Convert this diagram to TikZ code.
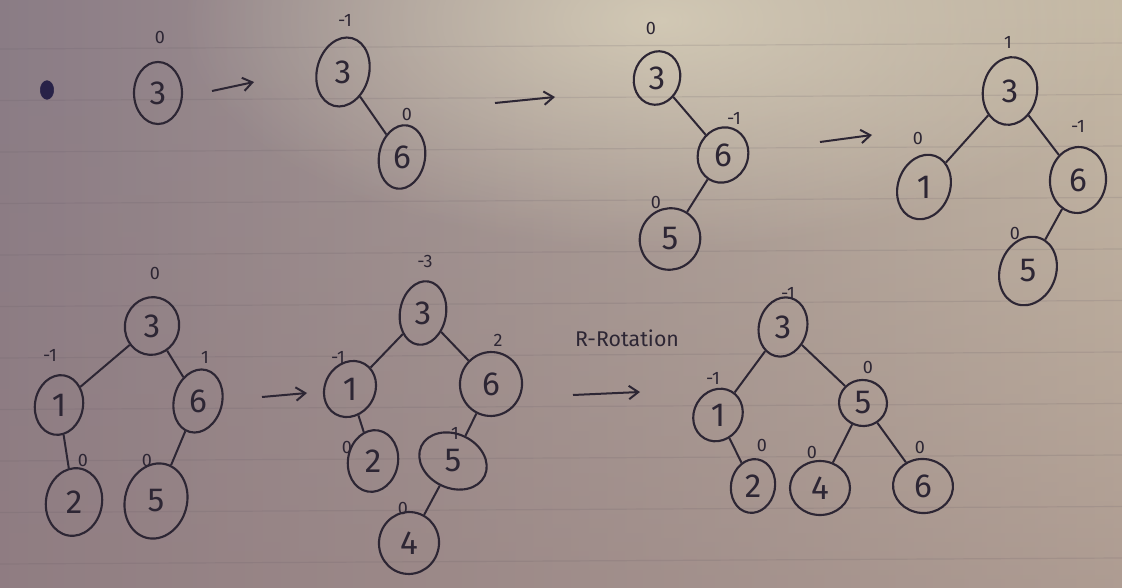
\documentclass[tikz,border=0pt]{standalone}
\usepackage{fontspec}
\setmainfont{Fira Sans}
\usetikzlibrary{shapes.geometric,arrows.meta,fadings}
\definecolor{ink}{RGB}{45,38,52}
\definecolor{dotink}{RGB}{40,34,72}
\definecolor{bgL}{RGB}{138,124,134}
\definecolor{bgR}{RGB}{198,186,166}
\definecolor{bgB}{RGB}{150,126,126}
\definecolor{bgH}{RGB}{222,214,190}
\definecolor{rule}{RGB}{95,85,95}
\tikzfading[name=softglow, inner color=transparent!0, outer color=transparent!100]
\newcommand{\avlnode}[7]{%
  \pgfmathsetmacro{\avlang}{-(#6)}%
  \node[tnode, minimum width=#4*1.5pt, minimum height=#5*1.5pt, rotate=#6] (#1) at (#2,#3) {\rotatebox{\avlang}{#7}};}
\begin{document}
\begin{tikzpicture}[x=0.75pt,y=-0.75pt,
  tnode/.style={ellipse, draw=ink, line width=1.6pt, inner sep=0pt, text=ink,
    font=\fontsize{25}{25}\selectfont},
  bf/.style={text=ink, inner sep=0pt, font=\fontsize{13.5}{13.5}\selectfont},
  edge/.style={draw=ink, line width=1.5pt},
  harrow/.style={draw=ink, line width=1.5pt, -{Straight Barb[length=7pt,width=10pt]}},
  rot/.style={text=ink, font=\fontsize{16}{16}\selectfont}]
% paper
\useasboundingbox (0,0) rectangle (1122,588);
\shade[left color=bgL, right color=bgR] (0,0) rectangle (1122,588);
\fill[bgB, path fading=north, fill opacity=0.5] (0,0) rectangle (1122,588);
\fill[bgH, path fading=softglow, fill opacity=0.75] (660,20) ellipse (480 and 230);
\foreach \k in {0,...,10}{
  \draw[rule, opacity=0.15, line width=0.9pt] (0,49+51.5*\k) -- (1122,43+51.5*\k);
}
% tree 1
\node[ellipse, fill=dotink, draw=dotink, minimum width=10pt, minimum height=14pt, inner sep=0pt] (dot) at (47,90) {};
\avlnode{t1a}{158}{93}{24}{31}{0}{3}
\node[bf] (t1al) at (160,37) {0};
\coordinate (a1s) at (212,91); \coordinate (a1e) at (254,82);
\draw[harrow] (a1s) -- (a1e);
% tree 2
\avlnode{t2a}{343}{72}{26}{35}{-15}{3}
\avlnode{t2b}{402}{157}{23}{32}{-10}{6}
\node[bf] (t2al) at (345,20) {-1};
\node[bf] (t2bl) at (407,114) {0};
\draw[edge] (t2a) -- (t2b);
\coordinate (a2s) at (495,103); \coordinate (a2e) at (555,97);
\draw[harrow] (a2s) -- (a2e);
% tree 3
\avlnode{t3a}{657}{78}{23}{27}{-15}{3}
\avlnode{t3b}{723}{155}{25}{28}{-20}{6}
\avlnode{t3c}{670}{239}{30}{31}{-30}{5}
\node[bf] (t3al) at (651,28) {0};
\node[bf] (t3bl) at (734,118) {-1};
\node[bf] (t3cl) at (656,202) {0};
\draw[edge] (t3a) -- (t3b);
\draw[edge] (t3b) -- (t3c);
\coordinate (a3s) at (820,142); \coordinate (a3e) at (872,135);
\draw[harrow] (a3s) -- (a3e);
% tree 4
\avlnode{t4a}{1010}{91}{27}{34}{-10}{3}
\avlnode{t4b}{924}{187}{26}{33}{-20}{1}
\avlnode{t4c}{1078}{180}{28}{33}{-5}{6}
\avlnode{t4d}{1028}{271}{28}{35}{-20}{5}
\node[bf] (t4al) at (1008,42) {1};
\node[bf] (t4bl) at (918,138) {0};
\node[bf] (t4cl) at (1078,126) {-1};
\node[bf] (t4dl) at (1015,233) {0};
\draw[edge] (t4a) -- (t4b);
\draw[edge] (t4a) -- (t4c);
\draw[edge] (t4c) -- (t4d);
% tree 5
\avlnode{t5a}{152}{326}{27}{29}{-15}{3}
\avlnode{t5b}{59}{405}{24}{30}{-10}{1}
\avlnode{t5c}{198}{401}{24}{32}{-15}{6}
\avlnode{t5d}{74}{502}{28}{34}{-10}{2}
\avlnode{t5e}{156}{501}{31}{38}{-15}{5}
\node[bf] (t5al) at (155,273) {0};
\node[bf] (t5bl) at (50,355) {-1};
\node[bf] (t5cl) at (205,357) {1};
\node[bf] (t5dl) at (83,460) {0};
\node[bf] (t5el) at (147,460) {0};
\draw[edge] (t5a) -- (t5b);
\draw[edge] (t5a) -- (t5c);
\draw[edge] (t5b) -- (t5d);
\draw[edge] (t5c) -- (t5e);
\coordinate (a4s) at (262,397); \coordinate (a4e) at (307,393);
\draw[harrow] (a4s) -- (a4e);
% tree 6
\avlnode{t6a}{423}{313}{23}{32}{-10}{3}
\avlnode{t6b}{350}{389}{25}{29}{-30}{1}
\avlnode{t6c}{491}{384}{31}{32}{-10}{6}
\avlnode{t6d}{373}{461}{25}{31}{-10}{2}
\avlnode{t6e}{453}{461}{35}{27}{-25}{5}
\avlnode{t6f}{409}{543}{30}{31}{-10}{4}
\node[bf] (t6al) at (425,261) {-3};
\node[bf] (t6bl) at (338,357) {-1};
\node[bf] (t6cl) at (498,340) {2};
\node[bf] (t6dl) at (347,447) {0};
\node[bf] (t6el) at (455,433) {1};
\node[bf] (t6fl) at (403,508) {0};
\draw[edge] (t6a) -- (t6b);
\draw[edge] (t6a) -- (t6c);
\draw[edge] (t6b) -- (t6d);
\draw[edge] (t6c) -- (t6e);
\draw[edge] (t6e) -- (t6f);
% rotation
\node[rot] (rl) at (627,338) {R-Rotation};
\coordinate (a5s) at (573,395); \coordinate (a5e) at (640,392);
\draw[harrow] (a5s) -- (a5e);
% tree 7
\avlnode{t7a}{783}{327}{24}{30}{-15}{3}
\avlnode{t7b}{718}{415}{24}{27}{-30}{1}
\avlnode{t7c}{863}{403}{24}{23}{-10}{5}
\avlnode{t7d}{753}{486}{22}{27}{-10}{2}
\avlnode{t7e}{820}{488}{30}{27}{0}{4}
\avlnode{t7f}{923}{486}{30}{27}{-5}{6}
\node[bf] (t7al) at (788,293) {-1};
\node[bf] (t7bl) at (713,378) {-1};
\node[bf] (t7cl) at (868,367) {0};
\node[bf] (t7dl) at (762,445) {0};
\node[bf] (t7el) at (812,452) {0};
\node[bf] (t7fl) at (920,447) {0};
\draw[edge] (t7a) -- (t7b);
\draw[edge] (t7a) -- (t7c);
\draw[edge] (t7b) -- (t7d);
\draw[edge] (t7c) -- (t7e);
\draw[edge] (t7c) -- (t7f);
\end{tikzpicture}
\end{document}
